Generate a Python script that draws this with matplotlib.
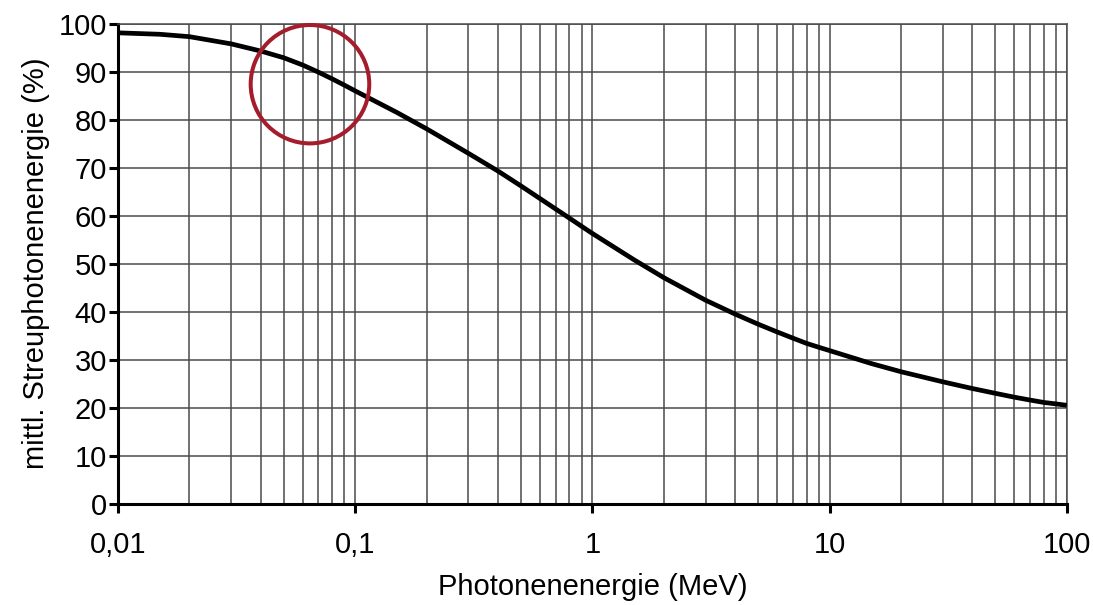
import matplotlib
matplotlib.use("Agg")
from matplotlib import pyplot as plt
from matplotlib.patches import Ellipse
from matplotlib.ticker import FixedLocator, NullFormatter

# photon energy (MeV) and mean scattered photon energy (%)
energie = [0.01, 0.015, 0.02, 0.03, 0.04, 0.05, 0.06, 0.07, 0.08, 0.09,
           0.1, 0.15, 0.2, 0.3, 0.4, 0.5, 0.6, 0.7, 0.8, 0.9,
           1, 1.5, 2, 3, 4, 5, 6, 7, 8, 9,
           10, 15, 20, 30, 40, 50, 60, 70, 80, 90, 100]
streu = [98.1, 97.8, 97.3, 95.8, 94.3, 92.9, 91.4, 89.9, 88.5, 87.2,
         86.0, 81.5, 78.1, 73.0, 69.3, 66.2, 63.6, 61.4, 59.5, 57.8,
         56.3, 50.8, 47.1, 42.4, 39.5, 37.4, 35.8, 34.5, 33.4, 32.6,
         31.9, 29.2, 27.5, 25.4, 24.0, 23.0, 22.2, 21.6, 21.1, 20.8, 20.5]

x_ticks = [0.01, 0.1, 1, 10, 100]
x_labels = ["0,01", "0,1", "1", "10", "100"]
y_ticks = list(range(0, 101, 10))

plt.rcParams['font.family'] = ['Liberation Sans', 'DejaVu Sans']

fig = plt.figure(figsize=(10.93, 6.05), dpi=100)
ax = fig.add_axes([0.108, 0.1674, 0.868, 0.7934])

ax.plot(energie, streu, color='black', lw=3.4, solid_joinstyle='round',
        solid_capstyle='butt', zorder=3)

ax.set_xscale('log')
ax.set_xlim(0.01, 100)
ax.set_ylim(0, 100)

ax.xaxis.set_major_locator(FixedLocator(x_ticks))
ax.set_xticklabels(x_labels)
minors = [m * 10.0**e for e in range(-2, 2) for m in range(2, 10)]
ax.xaxis.set_minor_locator(FixedLocator(minors))
ax.xaxis.set_minor_formatter(NullFormatter())
ax.set_yticks(y_ticks)

ax.grid(True, which='both', axis='x', color='#4a4a4a', lw=1.1)
ax.grid(True, which='major', axis='y', color='#4a4a4a', lw=1.1)

ax.tick_params(axis='both', which='major', direction='out', length=6.5,
               width=2.2, color='black', labelsize=21)
ax.tick_params(axis='y', pad=1.5)
ax.tick_params(axis='x', pad=13)
ax.tick_params(axis='x', which='minor', length=0)

for s in ['left', 'bottom']:
    ax.spines[s].set_linewidth(2.2)
    ax.spines[s].set_color('black')
for s in ['top', 'right']:
    ax.spines[s].set_linewidth(1.1)
    ax.spines[s].set_color('#4a4a4a')

ax.set_xlabel("Photonenenergie (MeV)", fontsize=21, labelpad=10)
ax.set_ylabel("mittl. Streuphotonenenergie (%)", fontsize=21, labelpad=6)

# highlight ring
ring = Ellipse((0.2023, 0.874), 2 * 59.3 / 949, 2 * 59.2 / 480,
               transform=ax.transAxes, fill=False, edgecolor='#a51d2d',
               lw=2.9, clip_on=False, zorder=4)
ax.add_patch(ring)

fig.savefig("out.png", dpi=100)
